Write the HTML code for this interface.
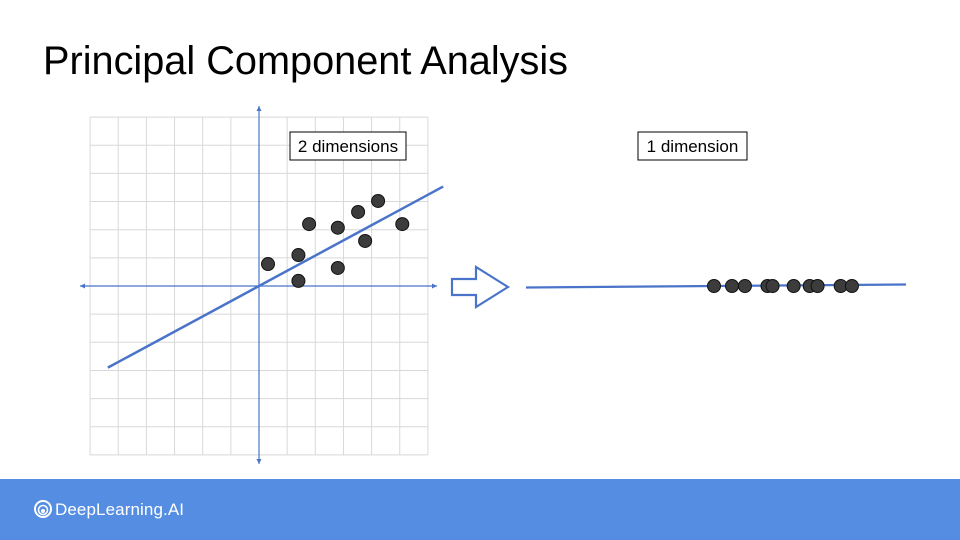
<!DOCTYPE html>
<html><head><meta charset="utf-8"><style>
body{margin:0;width:960px;height:540px;overflow:hidden;background:#fff;font-family:"Liberation Sans",sans-serif;position:relative}
#title{position:absolute;left:43px;top:39px;font-size:39.7px;color:#000;white-space:nowrap}
#banner{position:absolute;left:0;top:479px;width:960px;height:61px;background:#558de2}
#brand{position:absolute;left:55px;top:21px;color:#fff;font-size:17px;letter-spacing:0.1px}
#logo{position:absolute;left:34px;top:21px}
svg{position:absolute;left:0;top:0}
</style></head><body>
<div id="title">Principal Component Analysis</div>
<svg id="chart" width="960" height="479"></svg>
<div id="banner">
<svg id="logo" width="18" height="18" viewBox="0 0 18 18"><circle cx="9" cy="9" r="8" fill="none" stroke="#fff" stroke-width="2"/><circle cx="9" cy="10" r="4.5" fill="none" stroke="#fff" stroke-width="1.6"/><circle cx="9" cy="11" r="2" fill="#fff"/></svg>
<div id="brand">DeepLearning.AI</div>
</div>
<script>
const pointsX=[0.32,1.4,1.4,1.78,2.8,2.8,3.52,3.77,4.23,5.09];
const pointsY=[0.78,1.1,0.18,2.2,2.07,0.64,2.63,1.6,3.02,2.2];
const projected=[0,0.64,1.1,1.9,2.08,2.83,3.4,3.68,4.5,4.9];
const NS="http://www.w3.org/2000/svg";
const svg=document.getElementById('chart');
const u=28.15, ox=259, oy=286;
const sx=v=>ox+v*u, sy=v=>oy-v*u;
function mk(t,a){const e=document.createElementNS(NS,t);for(const k in a)e.setAttribute(k,a[k]);svg.appendChild(e);return e;}
const blue="#4a74c9";
for(let i=-6;i<=6;i++){
 const gl=mk('line',{x1:sx(i),y1:sy(6),x2:sx(i),y2:sy(-6),stroke:'#d8d8d8','stroke-width':1});
 
 
 const gh=mk('line',{x1:sx(-6),y1:sy(i),x2:sx(6),y2:sy(i),stroke:'#d8d8d8','stroke-width':1});
 
 
}
const xa=mk('line',{x1:80,y1:oy,x2:437,y2:oy,stroke:blue,'stroke-width':1.2});


const ya=mk('line',{x1:ox,y1:106,x2:ox,y2:464,stroke:blue,'stroke-width':1.2});


mk('path',{d:'M80 286 l5 -2.5 v5z M437 286 l-5 -2.5 v5z M259 106 l-2.5 5 h5z M259 464 l-2.5 -5 h5z',fill:blue});
const slope=0.54;
const pl=mk('line',{x1:sx(-5.37),y1:sy(-5.37*slope),x2:sx(6.54),y2:sy(6.54*slope),stroke:blue,'stroke-width':2.5});


for(let i=0;i<pointsX.length;i++){
 const c=mk('circle',{cx:sx(pointsX[i]),cy:sy(pointsY[i]),r:6.5,fill:'#3c3c3c',stroke:'#111','stroke-width':1});
 
 
}
function label(x,y,w,txt,name){
 const g=document.createElementNS(NS,'g');svg.appendChild(g);
 
 
 const r=document.createElementNS(NS,'rect');
 r.setAttribute('x',x);r.setAttribute('y',y);r.setAttribute('width',w);r.setAttribute('height',28);r.setAttribute('fill','#fff');r.setAttribute('stroke','#000');
 g.appendChild(r);
 const t=document.createElementNS(NS,'text');
 t.setAttribute('x',x+w/2);t.setAttribute('y',y+20);t.setAttribute('text-anchor','middle');t.setAttribute('font-size','17');t.setAttribute('font-family','Liberation Sans, sans-serif');
 t.textContent=txt;g.appendChild(t);
}
label(290,132,116,'2 dimensions','label-2-dimensions');
label(638,132,109,'1 dimension','label-1-dimension');
const ar=mk('path',{d:'M452 279 h24 v-12 l32 20 l-32 20 v-12 h-24z',fill:'#fff',stroke:blue,'stroke-width':2.2,'stroke-linejoin':'miter'});


const l1=mk('line',{x1:526,y1:287.5,x2:906,y2:284.5,stroke:blue,'stroke-width':2.2});


const px=v=>714+v*28.15;
for(let i=0;i<projected.length;i++){
 const x=px(projected[i]);
 const c=mk('circle',{cx:x,cy:286,r:6.5,fill:'#3c3c3c',stroke:'#111','stroke-width':1});
 
 
}
</script>
</body></html>
